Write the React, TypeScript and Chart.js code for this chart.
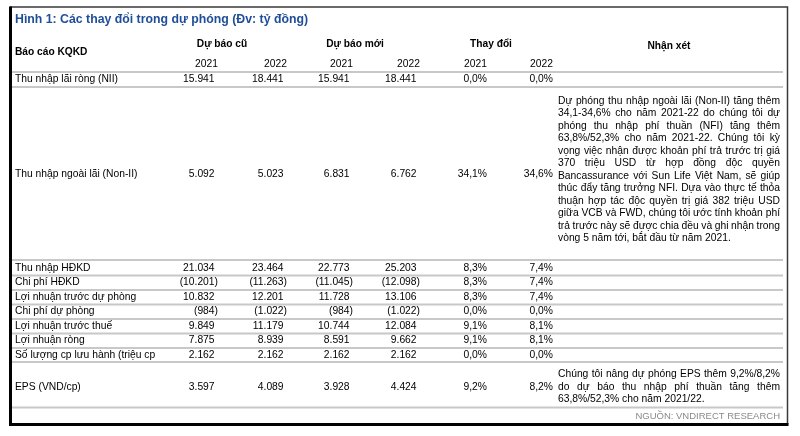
import React, { useEffect, useRef } from "react";
import { Chart, registerables } from "chart.js";

Chart.register(...registerables);

// ---------- data ----------
const title = "Hình 1: Các thay đổi trong dự phóng (Đv: tỷ đồng)";
const firstHeader = "Báo cáo KQKD";
const groupHeaders = ["Dự báo cũ", "Dự báo mới", "Thay đổi"];
const commentHeader = "Nhận xét";
const yearLabels = ["2021", "2022", "2021", "2022", "2021", "2022"];

const rowLabels = [
  "Thu nhập lãi ròng (NII)",
  "Thu nhập ngoài lãi (Non-II)",
  "Thu nhập HĐKD",
  "Chi phí HĐKD",
  "Lợi nhuận trước dự phòng",
  "Chi phí dự phòng",
  "Lợi nhuận trước thuế",
  "Lợi nhuận ròng",
  "Số lượng cp lưu hành (triệu cp",
  "EPS (VND/cp)",
];

const oldForecast2021 = [15941, 5092, 21034, -10201, 10832, -984, 9849, 7875, 2162, 3597];
const oldForecast2022 = [18441, 5023, 23464, -11263, 12201, -1022, 11179, 8939, 2162, 4089];
const newForecast2021 = [15941, 6831, 22773, -11045, 11728, -984, 10744, 8591, 2162, 3928];
const newForecast2022 = [18441, 6762, 25203, -12098, 13106, -1022, 12084, 9662, 2162, 4424];
const change2021 = [0.0, 34.1, 8.3, 8.3, 8.3, 0.0, 9.1, 9.1, 0.0, 9.2];
const change2022 = [0.0, 34.6, 7.4, 7.4, 7.4, 0.0, 8.1, 8.1, 0.0, 8.2];

const commentNonII = [
  "Dự phóng thu nhập ngoài lãi (Non-II) tăng thêm",
  "34,1-34,6% cho năm 2021-22 do chúng tôi dự",
  "phóng thu nhập phí thuần (NFI) tăng thêm",
  "63,8%/52,3% cho năm 2021-22. Chúng tôi kỳ",
  "vọng việc nhận được khoản phí trả trước trị giá",
  "370 triệu USD từ hợp đồng độc quyền",
  "Bancassurance với Sun Life Việt Nam, sẽ giúp",
  "thúc đẩy tăng trưởng NFI. Dựa vào thực tế thỏa",
  "thuận hợp tác độc quyền trị giá 382 triệu USD",
  "giữa VCB và FWD, chúng tôi ước tính khoản phí",
  "trả trước này sẽ được chia đều và ghi nhận trong",
  "vòng 5 năm tới, bắt đầu từ năm 2021.",
];
const commentEPS = [
  "Chúng tôi nâng dự phóng EPS thêm 9,2%/8,2%",
  "do dự báo thu nhập phí thuần tăng thêm",
  "63,8%/52,3% cho năm 2021/22.",
];
const sourceNote = "NGUỒN: VNDIRECT RESEARCH";

// ---------- layout (positions in scale units) ----------
const FONT = '"Liberation Sans", Arial, Helvetica, sans-serif';
const colRight = [218, 287, 353, 420, 487, 553];
const groupCenters = [222, 355, 491];
const rowCenterY = [79.5, 174, 268, 282.5, 297, 311.5, 326, 340.5, 355, 387];
const ruleY = [72, 87, 260, 275.5, 290, 304.5, 319, 333.5, 348, 362, 407.5];
const commentLeft = 558;
const commentRight = 780;

function fmtNumber(v: number): string {
  const s = Math.abs(v).toString().replace(/\B(?=(\d{3})+(?!\d))/g, ".");
  return v < 0 ? "(" + s + ")" : s;
}
function fmtPct(v: number): string {
  return v.toFixed(1).replace(".", ",") + "%";
}

function drawJustified(
  ctx: CanvasRenderingContext2D,
  line: string,
  x0: number,
  x1: number,
  y: number,
  justify: boolean
) {
  const words = line.split(" ");
  if (!justify || words.length < 2) {
    ctx.textAlign = "left";
    ctx.fillText(line, x0, y);
    return;
  }
  const widths = words.map((w) => ctx.measureText(w).width);
  const total = widths.reduce((a, b) => a + b, 0);
  const gap = (x1 - x0 - total) / (words.length - 1);
  let x = x0;
  ctx.textAlign = "left";
  words.forEach((w, i) => {
    ctx.fillText(w, x, y);
    x += widths[i] + gap;
  });
}

const tablePlugin = {
  id: "tablePlugin",
  afterDraw(chart: any) {
    const ctx: CanvasRenderingContext2D = chart.ctx;
    const xs = chart.scales.x;
    const ys = chart.scales.y;
    const X = (v: number) => xs.getPixelForValue(v);
    const Y = (v: number) => ys.getPixelForValue(v);
    ctx.save();
    ctx.textBaseline = "middle";

    // frame
    ctx.strokeStyle = "#3a3a3a";
    ctx.lineWidth = 1.5;
    ctx.beginPath();
    ctx.moveTo(X(10), Y(7));
    ctx.lineTo(X(787.5), Y(7));
    ctx.lineTo(X(787.5), Y(424.5));
    ctx.stroke();
    ctx.strokeStyle = "#000";
    ctx.lineWidth = 3;
    ctx.beginPath();
    ctx.moveTo(X(10.5), Y(6.5));
    ctx.lineTo(X(10.5), Y(424.5));
    ctx.lineTo(X(788.5), Y(424.5));
    ctx.stroke();

    // horizontal rules
    ctx.strokeStyle = "#c8c8c8";
    ctx.lineWidth = 2;
    ruleY.forEach((ry) => {
      ctx.beginPath();
      ctx.moveTo(X(12), Y(ry));
      ctx.lineTo(X(783), Y(ry));
      ctx.stroke();
    });

    // title
    ctx.fillStyle = "#1f4e99";
    ctx.font = `bold 12.3px ${FONT}`;
    ctx.textAlign = "left";
    ctx.fillText(title, X(15), Y(20));

    // headers
    ctx.fillStyle = "#000";
    ctx.font = `bold 10.2px ${FONT}`;
    ctx.textAlign = "left";
    ctx.fillText(firstHeader, X(15), Y(52));
    ctx.textAlign = "center";
    groupHeaders.forEach((h, i) => ctx.fillText(h, X(groupCenters[i]), Y(44)));
    ctx.fillText(commentHeader, X(669), Y(46));

    ctx.font = `10.3px ${FONT}`;
    ctx.textAlign = "right";
    yearLabels.forEach((yl, i) => ctx.fillText(yl, X(colRight[i]), Y(64.5)));

    // body
    const paren = ctx.measureText(")").width;
    const numCols = [oldForecast2021, oldForecast2022, newForecast2021, newForecast2022];
    const pctCols = [change2021, change2022];
    rowLabels.forEach((label, r) => {
      const y = Y(rowCenterY[r]);
      ctx.textAlign = "left";
      ctx.fillText(label, X(15), y);
      ctx.textAlign = "right";
      numCols.forEach((col, c) => {
        const v = col[r];
        const right = v < 0 ? X(colRight[c]) : X(colRight[c]) - paren;
        ctx.fillText(fmtNumber(v), right, y);
      });
      pctCols.forEach((col, c) => {
        ctx.fillText(fmtPct(col[r]), X(colRight[4 + c]), y);
      });
    });

    // comments
    const nonIIStart = 101;
    const pitch = 12.5;
    commentNonII.forEach((line, i) => {
      drawJustified(ctx, line, X(commentLeft), X(commentRight), Y(nonIIStart + i * pitch), i < commentNonII.length - 1);
    });
    const epsStart = 374.5;
    commentEPS.forEach((line, i) => {
      drawJustified(ctx, line, X(commentLeft), X(commentRight), Y(epsStart + i * pitch), i < commentEPS.length - 1);
    });

    // source
    ctx.fillStyle = "#8a8a8a";
    ctx.font = `9.5px ${FONT}`;
    ctx.textAlign = "right";
    ctx.fillText(sourceNote, X(780), Y(416.5));

    ctx.restore();
  },
};

export default function App() {
  const canvasRef = useRef<HTMLCanvasElement | null>(null);

  useEffect(() => {
    const canvas = canvasRef.current;
    if (!canvas) return;
    const chart = new Chart(canvas, {
      type: "scatter",
      data: { datasets: [{ data: [] as any[] }] },
      options: {
        responsive: false,
        maintainAspectRatio: false,
        animation: false,
        devicePixelRatio: 1,
        layout: { padding: 0 },
        plugins: { legend: { display: false }, tooltip: { enabled: false } },
        scales: {
          x: { type: "linear", min: 0, max: 800, display: false },
          y: { type: "linear", min: 0, max: 436, reverse: true, display: false },
        },
      },
      plugins: [tablePlugin],
    } as any);
    return () => chart.destroy();
  }, []);

  return (
    <div style={{ position: "absolute", left: 0, top: 0, width: 800, height: 436, background: "#fff" }}>
      <canvas ref={canvasRef} width={800} height={436} style={{ display: "block" }} />
    </div>
  );
}
